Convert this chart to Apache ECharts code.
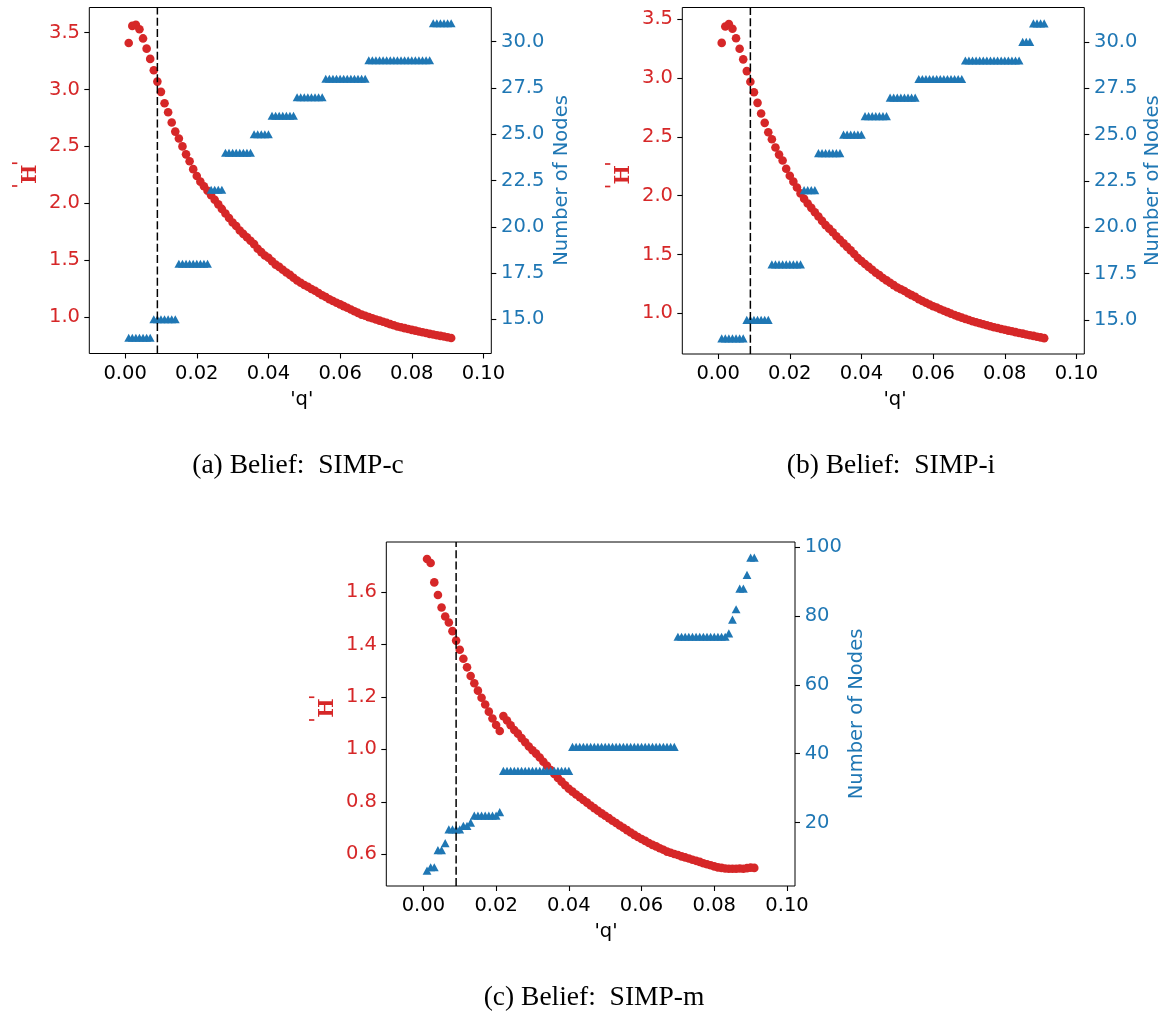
<!DOCTYPE html>
<html>
<head>
<meta charset="utf-8">
<script src="https://cdn.jsdelivr.net/npm/echarts@6/dist/echarts.min.js"></script>
<style>
  html, body { margin: 0; padding: 0; background: #ffffff; }
  #chart { width: 1176px; height: 1016px; }
</style>
</head>
<body>
<div id="chart"></div>
<script>
// q values shared by all three belief variants
const Q = [
  0.001, 0.002, 0.003, 0.004, 0.005, 0.006, 0.007, 0.008, 0.009, 0.010,
  0.011, 0.012, 0.013, 0.014, 0.015, 0.016, 0.017, 0.018, 0.019, 0.020,
  0.021, 0.022, 0.023, 0.024, 0.025, 0.026, 0.027, 0.028, 0.029, 0.030,
  0.031, 0.032, 0.033, 0.034, 0.035, 0.036, 0.037, 0.038, 0.039, 0.040,
  0.041, 0.042, 0.043, 0.044, 0.045, 0.046, 0.047, 0.048, 0.049, 0.050,
  0.051, 0.052, 0.053, 0.054, 0.055, 0.056, 0.057, 0.058, 0.059, 0.060,
  0.061, 0.062, 0.063, 0.064, 0.065, 0.066, 0.067, 0.068, 0.069, 0.070,
  0.071, 0.072, 0.073, 0.074, 0.075, 0.076, 0.077, 0.078, 0.079, 0.080,
  0.081, 0.082, 0.083, 0.084, 0.085, 0.086, 0.087, 0.088, 0.089, 0.090,
  0.091
];

// (a) SIMP-c
const simpC_H = [
  3.41, 3.56, 3.57, 3.53, 3.45, 3.36, 3.27, 3.17, 3.07, 2.98,
  2.88, 2.80, 2.71, 2.63, 2.57, 2.50, 2.43, 2.37, 2.30, 2.24,
  2.19, 2.15, 2.11, 2.07, 2.03, 1.99, 1.95, 1.91, 1.87, 1.83,
  1.80, 1.76, 1.73, 1.70, 1.67, 1.64, 1.60, 1.57, 1.54, 1.52,
  1.49, 1.46, 1.44, 1.415, 1.39, 1.37, 1.345, 1.32, 1.30, 1.28,
  1.265, 1.245, 1.23, 1.21, 1.19, 1.175, 1.155, 1.14, 1.125, 1.11,
  1.095, 1.08, 1.065, 1.05, 1.035, 1.02, 1.01, 0.998, 0.988, 0.977,
  0.967, 0.957, 0.947, 0.936, 0.926, 0.916, 0.909, 0.901, 0.894, 0.886,
  0.879, 0.872, 0.865, 0.858, 0.851, 0.845, 0.839, 0.833, 0.827, 0.821,
  0.815
];
const simpC_nodes = [
  14, 14, 14, 14, 14, 14, 14, 15, 15, 15,
  15, 15, 15, 15, 18, 18, 18, 18, 18, 18,
  18, 18, 18, 22, 22, 22, 22, 24, 24, 24,
  24, 24, 24, 24, 24, 25, 25, 25, 25, 25,
  26, 26, 26, 26, 26, 26, 26, 27, 27, 27,
  27, 27, 27, 27, 27, 28, 28, 28, 28, 28,
  28, 28, 28, 28, 28, 28, 28, 29, 29, 29,
  29, 29, 29, 29, 29, 29, 29, 29, 29, 29,
  29, 29, 29, 29, 29, 31, 31, 31, 31, 31,
  31
];

// (b) SIMP-i
const simpI_H = [
  3.30, 3.44, 3.46, 3.42, 3.34, 3.25, 3.16, 3.06, 2.97, 2.88,
  2.79, 2.70, 2.62, 2.54, 2.48, 2.41, 2.35, 2.30, 2.23, 2.17,
  2.12, 2.07, 2.02, 1.975, 1.934, 1.897, 1.86, 1.823, 1.786, 1.75,
  1.72, 1.69, 1.655, 1.625, 1.595, 1.565, 1.535, 1.505, 1.47, 1.445,
  1.42, 1.395, 1.37, 1.345, 1.325, 1.30, 1.28, 1.26, 1.24, 1.22,
  1.205, 1.19, 1.17, 1.155, 1.14, 1.12, 1.105, 1.09, 1.075, 1.06,
  1.05, 1.035, 1.022, 1.01, 0.997, 0.985, 0.974, 0.963, 0.953, 0.943,
  0.933, 0.924, 0.915, 0.907, 0.898, 0.89, 0.882, 0.875, 0.867, 0.86,
  0.853, 0.847, 0.84, 0.833, 0.827, 0.82, 0.814, 0.808, 0.801, 0.795,
  0.789
];
const simpI_nodes = [
  14, 14, 14, 14, 14, 14, 14, 15, 15, 15,
  15, 15, 15, 15, 18, 18, 18, 18, 18, 18,
  18, 18, 18, 22, 22, 22, 22, 24, 24, 24,
  24, 24, 24, 24, 25, 25, 25, 25, 25, 25,
  26, 26, 26, 26, 26, 26, 26, 27, 27, 27,
  27, 27, 27, 27, 27, 28, 28, 28, 28, 28,
  28, 28, 28, 28, 28, 28, 28, 28, 29, 29,
  29, 29, 29, 29, 29, 29, 29, 29, 29, 29,
  29, 29, 29, 29, 30, 30, 30, 31, 31, 31,
  31
];

// (c) SIMP-m
const simpM_H = [
  1.726, 1.711, 1.637, 1.589, 1.541, 1.507, 1.484, 1.451, 1.415, 1.380,
  1.346, 1.313, 1.280, 1.252, 1.224, 1.197, 1.171, 1.144, 1.118, 1.093,
  1.070, 1.127, 1.110, 1.092, 1.074, 1.060, 1.043, 1.027, 1.011, 0.997,
  0.984, 0.969, 0.953, 0.937, 0.921, 0.906, 0.891, 0.877, 0.863, 0.850,
  0.839, 0.828, 0.818, 0.807, 0.797, 0.786, 0.776, 0.766, 0.756, 0.747,
  0.738, 0.728, 0.719, 0.710, 0.701, 0.692, 0.683, 0.674, 0.666, 0.658,
  0.651, 0.643, 0.636, 0.630, 0.623, 0.617, 0.610, 0.606, 0.601, 0.597,
  0.592, 0.588, 0.584, 0.579, 0.575, 0.571, 0.566, 0.562, 0.558, 0.554,
  0.550, 0.548, 0.546, 0.545, 0.545, 0.545, 0.546, 0.545, 0.547, 0.549,
  0.548
];
const simpM_nodes = [
  6, 7, 7, 12, 12, 14, 18, 18, 18, 18,
  19, 19, 20, 22, 22, 22, 22, 22, 22, 22,
  23, 35, 35, 35, 35, 35, 35, 35, 35, 35,
  35, 35, 35, 35, 35, 35, 35, 35, 35, 35,
  42, 42, 42, 42, 42, 42, 42, 42, 42, 42,
  42, 42, 42, 42, 42, 42, 42, 42, 42, 42,
  42, 42, 42, 42, 42, 42, 42, 42, 42, 74,
  74, 74, 74, 74, 74, 74, 74, 74, 74, 74,
  74, 74, 74, 75, 79, 82, 88, 88, 92, 97,
  97
];

// tick labels
const qTicks = [0.00, 0.02, 0.04, 0.06, 0.08, 0.10];
const hTicksAB = [1.0, 1.5, 2.0, 2.5, 3.0, 3.5];
const nodeTicksAB = [15.0, 17.5, 20.0, 22.5, 25.0, 27.5, 30.0];
const hTicksC = [0.6, 0.8, 1.0, 1.2, 1.4, 1.6];
const nodeTicksC = [20, 40, 60, 80, 100];

// vertical reference at this q
const qThreshold = 0.009;

// captions
const captions = ['(a) Belief:  SIMP-c', '(b) Belief:  SIMP-i', '(c) Belief:  SIMP-m'];

const RED = '#d62728';
const BLUE = '#1f77b4';
const SANS = 'DejaVu Sans';

const panels = [
  { grid: { left: 89.3, top: 7.5, width: 402, height: 346 },
    xRange: [-0.01, 0.1022], hRange: [0.678, 3.722], nRange: [13.15, 31.85],
    hTicks: hTicksAB, nTicks: nodeTicksAB, nFmt: v => v.toFixed(1),
    H: simpC_H, N: simpC_nodes,
    qLabel: [301.7, 400], hLabel: [89.3, 174.7], nLabel: [562, 180.5], caption: [298, 466] },
  { grid: { left: 682.3, top: 7.5, width: 402, height: 346.5 },
    xRange: [-0.01, 0.1022], hRange: [0.654, 3.601], nRange: [13.16, 31.86],
    hTicks: hTicksAB, nTicks: nodeTicksAB, nFmt: v => v.toFixed(1),
    H: simpI_H, N: simpI_nodes,
    qLabel: [895, 400], hLabel: [682.3, 175.3], nLabel: [1153, 180.7], caption: [891, 466] },
  { grid: { left: 386.3, top: 542, width: 408.7, height: 344 },
    xRange: [-0.0102, 0.1022], hRange: [0.479, 1.791], nRange: [1.55, 101.55],
    hTicks: hTicksC, nTicks: nodeTicksC, nFmt: v => String(Math.round(v)),
    H: simpM_H, N: simpM_nodes,
    qLabel: [606, 932], hLabel: [386.3, 708.6], nLabel: [857, 714], caption: [594, 998] }
];

const tickStyle = { show: true, length: 5, lineStyle: { color: '#000', width: 1.1 } };
const hiddenLine = { show: false, onZero: false };

const grids = [], xAxes = [], yAxes = [], series = [], graphics = [];

panels.forEach((p, i) => {
  grids.push(Object.assign({ show: true, borderColor: '#000', borderWidth: 1,
    backgroundColor: 'transparent', containLabel: false, outerBoundsMode: 'none' }, p.grid));

  xAxes.push({
    type: 'value', gridIndex: i, position: 'bottom', min: p.xRange[0], max: p.xRange[1],
    axisLine: hiddenLine, splitLine: { show: false },
    axisTick: Object.assign({ customValues: qTicks }, tickStyle),
    axisLabel: { customValues: qTicks, formatter: v => v.toFixed(2), margin: 10,
      color: '#000', fontFamily: SANS, fontSize: 19.5 }
  });

  yAxes.push({
    type: 'value', gridIndex: i, position: 'left', min: p.hRange[0], max: p.hRange[1],
    axisLine: hiddenLine, splitLine: { show: false },
    axisTick: Object.assign({ customValues: p.hTicks }, tickStyle),
    axisLabel: { customValues: p.hTicks, formatter: v => v.toFixed(1), margin: 9.3,
      color: RED, fontFamily: SANS, fontSize: 19.5 }
  });
  yAxes.push({
    type: 'value', gridIndex: i, position: 'right', min: p.nRange[0], max: p.nRange[1],
    axisLine: hiddenLine, splitLine: { show: false },
    axisTick: Object.assign({ customValues: p.nTicks }, tickStyle),
    axisLabel: { customValues: p.nTicks, formatter: p.nFmt, margin: 9.7,
      color: BLUE, fontFamily: SANS, fontSize: 19.5 }
  });

  series.push({
    type: 'scatter', xAxisIndex: i, yAxisIndex: 2 * i, z: 2,
    symbol: 'circle', symbolSize: 8.6,
    itemStyle: { color: RED, opacity: 1 },
    data: Q.map((q, k) => [q, p.H[k]])
  });
  series.push({
    type: 'scatter', xAxisIndex: i, yAxisIndex: 2 * i + 1, z: 3,
    symbol: 'triangle', symbolSize: [8.8, 8.2],
    itemStyle: { color: BLUE, opacity: 1 },
    data: Q.map((q, k) => [q, p.N[k]])
  });
  // dashed threshold line spanning the full height of the panel
  series.push({
    type: 'line', xAxisIndex: i, yAxisIndex: 2 * i, z: 4, silent: true,
    symbol: 'none', clip: false,
    lineStyle: { color: '#000', width: 1.5, type: [8, 3.3] },
    data: [[qThreshold, p.hRange[0]], [qThreshold, p.hRange[1]]]
  });

  graphics.push({
    type: 'text', x: p.qLabel[0], y: p.qLabel[1],
    style: { text: "'q'", align: 'center', verticalAlign: 'middle',
      font: '19.5px "DejaVu Sans"', fill: '#000' }
  });
  graphics.push({
    type: 'text', x: p.nLabel[0], y: p.nLabel[1], rotation: Math.PI / 2,
    style: { text: 'Number of Nodes', align: 'center', verticalAlign: 'middle',
      font: '19.5px "DejaVu Sans"', fill: BLUE }
  });
  // left axis title: 'H' with a serif H between sans quotes, read bottom to top
  const hx = p.hLabel[0], hy = p.hLabel[1];
  graphics.push({
    type: 'text', x: hx - 68.3, y: hy + 11.3, rotation: Math.PI / 2,
    style: { text: "'", align: 'center', verticalAlign: 'middle',
      font: '20px "DejaVu Sans"', fill: RED }
  });
  graphics.push({
    type: 'text', x: hx - 58.5, y: hy - 0.5, rotation: Math.PI / 2,
    style: { text: 'H', align: 'center', verticalAlign: 'middle',
      font: 'bold 20.6px "DejaVu Serif"', fill: RED }
  });
  graphics.push({
    type: 'text', x: hx - 68.3, y: hy - 11.4, rotation: Math.PI / 2,
    style: { text: "'", align: 'center', verticalAlign: 'middle',
      font: '20px "DejaVu Sans"', fill: RED }
  });
  graphics.push({
    type: 'text', x: p.caption[0], y: p.caption[1],
    style: { text: captions[i], align: 'center', verticalAlign: 'middle',
      font: '27.5px "Liberation Serif"', fill: '#000' }
  });
});

const chart = echarts.init(document.getElementById('chart'), null, { renderer: 'canvas' });
chart.setOption({
  animation: false,
  backgroundColor: '#ffffff',
  grid: grids,
  xAxis: xAxes,
  yAxis: yAxes,
  series: series,
  graphic: graphics
});
</script>
</body>
</html>
